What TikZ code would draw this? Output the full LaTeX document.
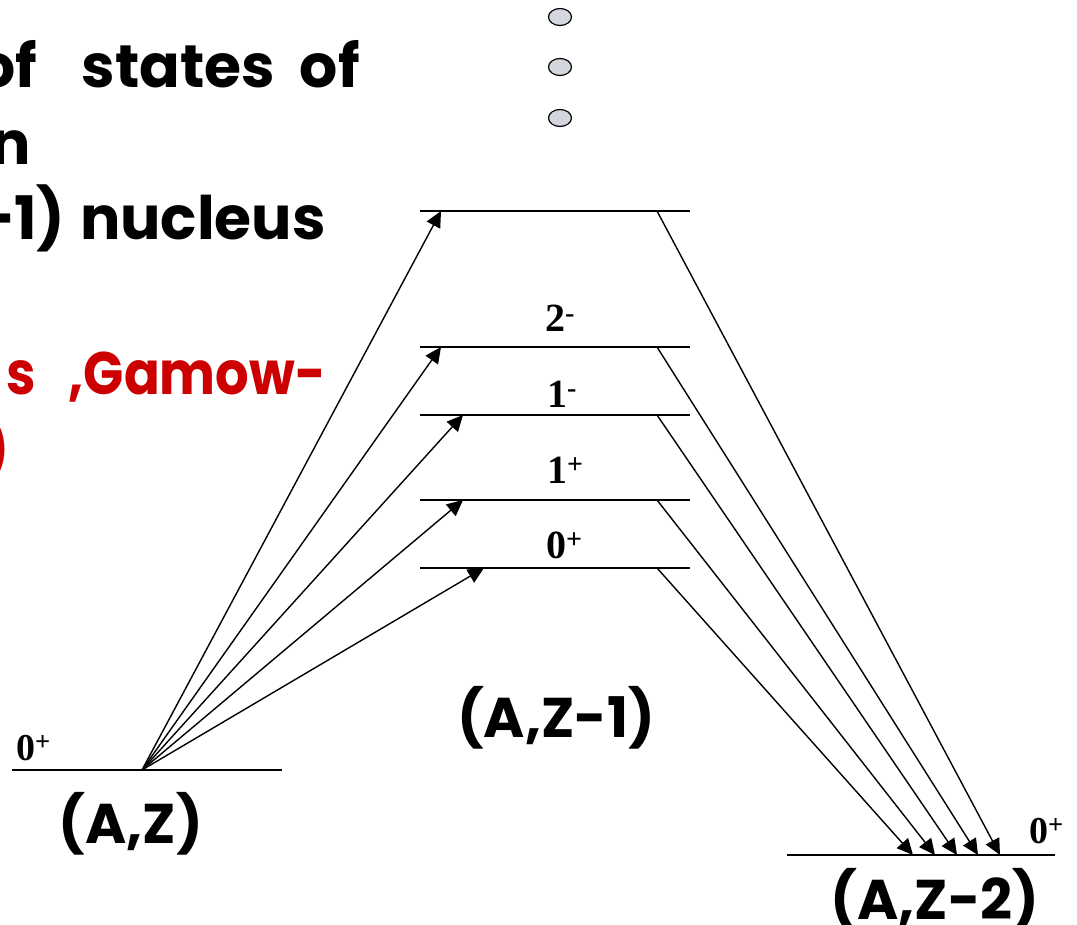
\documentclass[tikz,border=0pt]{standalone}
\usepackage{fontspec}
\setmainfont{Liberation Serif}
\newfontfamily\comicfont{Poppins}
\usetikzlibrary{arrows.meta,shapes.geometric}
\definecolor{dotfill}{RGB}{212,214,222}
\definecolor{tred}{RGB}{204,0,0}
\tikzset{
  level/.style={line width=1.8pt},
  trans/.style={line width=1.4pt, arrows={-Triangle[length=16pt, width=15pt]}},
  jp/.style={font=\fontsize{40}{42}\selectfont\bfseries, inner sep=0pt, anchor=base west},
  nuc/.style={font=\fontsize{56}{60}\selectfont\comicfont\bfseries, inner sep=0pt},
  head/.style={font=\fontsize{60}{76}\selectfont\comicfont\bfseries, inner sep=0pt, anchor=base east},
  dot/.style={ellipse, draw, line width=1.2pt, fill=dotfill, minimum width=23pt, minimum height=17pt, inner sep=0pt}
}
\begin{document}
\begin{tikzpicture}[x=1pt,y=-1pt]
\useasboundingbox (0,0) rectangle (1077,925);

% heading text (cut at the left edge)
\node[head] (h1) at (360,88) {of \hspace{32pt}states \hspace{12pt}of};
\node[head] (h2) at (31,165) {n};
\node[head] (h3) at (326,240) {+1) \hspace{2pt}nucleus};
\node[head, text=tred] (h4) at (326,395) {\scalebox{0.88}[1]{s \hspace{24pt},Gamow-}};
\node[head, text=tred] (h5) at (10,470) {)};

% dots
\node[dot] (d1) at (560,17) {};
\node[dot] (d2) at (560,67) {};
\node[dot] (d3) at (560,118) {};

% levels
\coordinate (gL) at (12,770);  \coordinate (gR) at (282,770); \coordinate (g0) at (142,770);
\coordinate (tL) at (420,211); \coordinate (tR) at (690,211);
\coordinate (aL) at (420,347); \coordinate (aR) at (690,347);
\coordinate (bL) at (420,415); \coordinate (bR) at (690,415);
\coordinate (cL) at (420,500); \coordinate (cR) at (690,500);
\coordinate (eL) at (420,568); \coordinate (eR) at (690,568);
\coordinate (fL) at (787,855); \coordinate (fR) at (1055,855);
\draw[level] (gL) -- (gR);
\draw[level] (tL) -- (tR);
\draw[level] (aL) -- (aR);
\draw[level] (bL) -- (bR);
\draw[level] (cL) -- (cR);
\draw[level] (eL) -- (eR);
\draw[level] (fL) -- (fR);

% arrival points on intermediate levels
\coordinate (tin) at (441,211);
\coordinate (ain) at (441,347);
\coordinate (bin) at (463,415);
\coordinate (cin) at (463,500);
\coordinate (ein) at (484,568);
% departure points
\coordinate (tout) at (657,211);
\coordinate (aout) at (657,347);
\coordinate (bout) at (657,415);
\coordinate (cout) at (657,500);
\coordinate (eout) at (657,568);
% arrival points on final level
\coordinate (f1) at (1000,855);
\coordinate (f2) at (978,855);
\coordinate (f3) at (957,855);
\coordinate (f4) at (935,855);
\coordinate (f5) at (913,855);

\draw[trans] (g0) -- (tin);
\draw[trans] (g0) -- (ain);
\draw[trans] (g0) -- (bin);
\draw[trans] (g0) -- (cin);
\draw[trans] (g0) -- (ein);
\draw[trans] (tout) -- (f1);
\draw[trans] (aout) -- (f2);
\draw[trans] (bout) -- (f3);
\draw[trans] (cout) -- (f4);
\draw[trans] (eout) -- (f5);

% spin-parity labels
\node[jp] (l2m) at (545,332) {2\textsuperscript{-}};
\node[jp] (l1m) at (547,407) {1\textsuperscript{-}};
\node[jp] (l1p) at (547,483) {1\textsuperscript{+}};
\node[jp] (l0p) at (546,558) {0\textsuperscript{+}};
\node[jp, font=\fontsize{38}{40}\selectfont\bfseries] (lg) at (16,760) {0\textsuperscript{+}};
\node[jp, font=\fontsize{38}{40}\selectfont\bfseries] (lf) at (1029,843) {0\textsuperscript{+}};

% nucleus labels
\node[nuc] (nAZ) at (131,824) {(A,Z)};
\node[nuc] (nAZ1) at (556,718) {(A,Z-1)};
\node[nuc] (nAZ2) at (935,900) {(A,Z-2)};
\end{tikzpicture}
\end{document}
